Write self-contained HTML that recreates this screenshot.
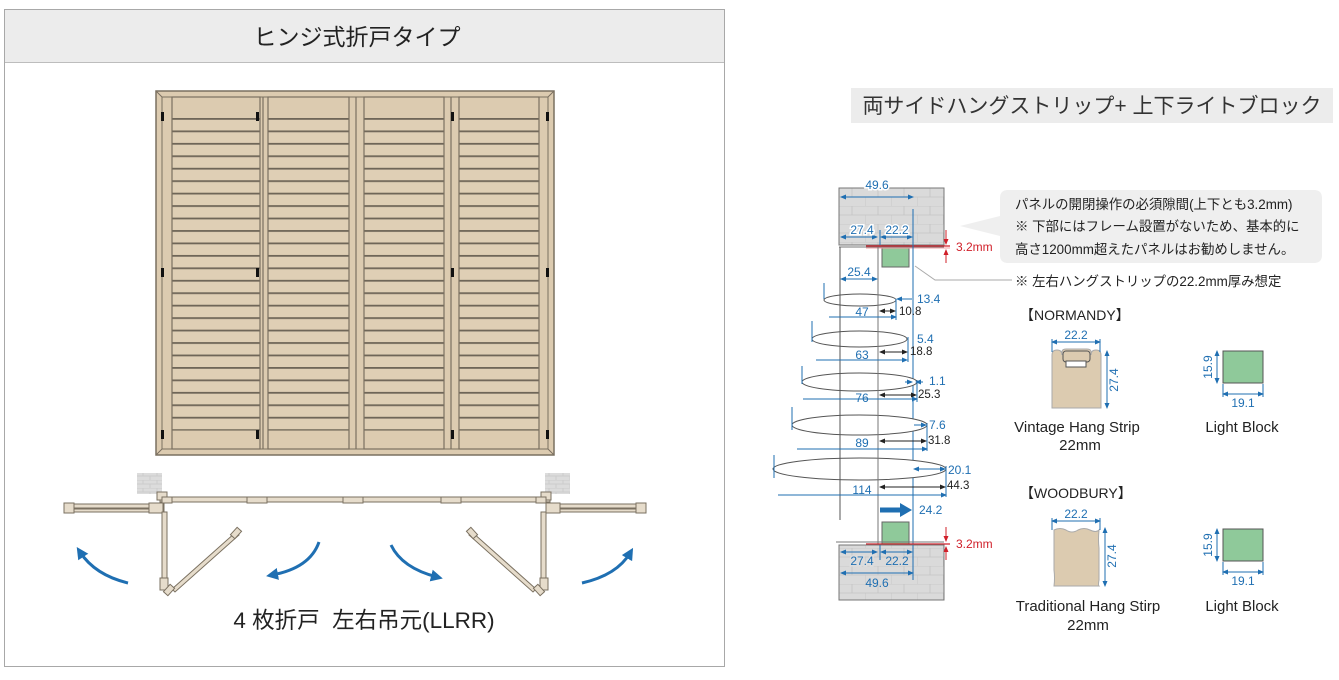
<!DOCTYPE html>
<html><head><meta charset="utf-8"><style>
body{margin:0;background:#fff;}
svg{display:block;font-family:"Liberation Sans","Noto Sans CJK JP",sans-serif;}
</style></head><body>
<svg width="1339" height="680" viewBox="0 0 1339 680" xmlns="http://www.w3.org/2000/svg">
<defs>
<pattern id="lv" patternUnits="userSpaceOnUse" x="0" y="118" width="10" height="12.45">
<rect width="10" height="12.45" fill="#dfcfb5"/><rect y="0" width="10" height="1.8" fill="#6f6658"/>
</pattern>
<pattern id="brick" patternUnits="userSpaceOnUse" width="14" height="8">
<rect width="14" height="8" fill="#dcdcdc"/><path d="M0 0H14M0 4H14M3 0V4M10 4V8" stroke="#c8c8c8" stroke-width="0.8"/>
</pattern>
<pattern id="blk" patternUnits="userSpaceOnUse" x="839" y="188" width="26" height="18">
<rect width="26" height="18" fill="#dadada"/><path d="M0 0H26M0 9H26M13 0V9M0 9V18" stroke="#c4c4c4" stroke-width="0.8"/>
</pattern>
<marker id="ab" markerWidth="6" markerHeight="6" refX="5" refY="3" orient="auto"><path d="M0,0.5L6,3L0,5.5z" fill="#1f6fb2"/></marker>
<marker id="abs" markerWidth="6" markerHeight="6" refX="1" refY="3" orient="auto"><path d="M6,0.5L0,3L6,5.5z" fill="#1f6fb2"/></marker>
<marker id="ak" markerWidth="6" markerHeight="6" refX="5" refY="3" orient="auto"><path d="M0,0.5L6,3L0,5.5z" fill="#222"/></marker>
<marker id="aks" markerWidth="6" markerHeight="6" refX="1" refY="3" orient="auto"><path d="M6,0.5L0,3L6,5.5z" fill="#222"/></marker>
<marker id="ar" markerWidth="6" markerHeight="6" refX="5" refY="3" orient="auto"><path d="M0,0.5L6,3L0,5.5z" fill="#d0202a"/></marker>
<marker id="big" markerWidth="4" markerHeight="4" refX="2" refY="2" orient="auto"><path d="M0,0L4,2L0,4z" fill="#1f6fb2"/></marker>
</defs>

<!-- LEFT PANEL -->
<rect x="4.5" y="9.5" width="720" height="657" fill="#fff" stroke="#a8a8a8"/>
<rect x="5" y="10" width="719" height="52" fill="#ececec"/>
<line x1="5" y1="62.5" x2="724" y2="62.5" stroke="#bdbdbd"/>
<text x="357" y="45" font-size="23" text-anchor="middle" fill="#222">ヒンジ式折戸タイプ</text>

<!-- shutter -->
<rect x="156" y="91" width="398" height="364" fill="#dccbb0" stroke="#7a7060" stroke-width="1.5"/>
<rect x="162" y="97" width="386" height="352" fill="#dccbb0" stroke="#7a7060" stroke-width="1"/>
<g stroke="#7a7060" stroke-width="1">
<line x1="156" y1="91" x2="162" y2="97"/><line x1="554" y1="91" x2="548" y2="97"/>
<line x1="156" y1="455" x2="162" y2="449"/><line x1="554" y1="455" x2="548" y2="449"/>
</g>
<g>
<rect x="172" y="118" width="88" height="312" fill="url(#lv)"/>
<rect x="268" y="118" width="81" height="312" fill="url(#lv)"/>
<rect x="364" y="118" width="80" height="312" fill="url(#lv)"/>
<rect x="459" y="118" width="80" height="312" fill="url(#lv)"/>
</g>
<g fill="none" stroke="#7a7060" stroke-width="1.2">
<rect x="172" y="97" width="88" height="352"/>
<rect x="268" y="97" width="81" height="352"/>
<rect x="364" y="97" width="80" height="352"/>
<rect x="459" y="97" width="80" height="352"/>
<line x1="172" y1="430" x2="260" y2="430"/><line x1="268" y1="430" x2="349" y2="430"/>
<line x1="364" y1="430" x2="444" y2="430"/><line x1="459" y1="430" x2="539" y2="430"/>
<line x1="263" y1="97" x2="263" y2="449"/><line x1="356" y1="97" x2="356" y2="449"/><line x1="451" y1="97" x2="451" y2="449"/>
</g>
<g fill="#111">
<rect x="161" y="112" width="3" height="9"/><rect x="161" y="268" width="3" height="9"/><rect x="161" y="430" width="3" height="9"/>
<rect x="256" y="112" width="3" height="9"/><rect x="256" y="268" width="3" height="9"/><rect x="256" y="430" width="3" height="9"/>
<rect x="451" y="112" width="3" height="9"/><rect x="451" y="268" width="3" height="9"/><rect x="451" y="430" width="3" height="9"/>
<rect x="546" y="112" width="3" height="9"/><rect x="546" y="268" width="3" height="9"/><rect x="546" y="430" width="3" height="9"/>
</g>

<!-- plan view -->
<rect x="137" y="473" width="25" height="21" fill="url(#brick)"/>
<rect x="545" y="473" width="25" height="21" fill="url(#brick)"/>
<g fill="#e6dccb" stroke="#7a7060" stroke-width="1">
<rect x="160" y="497" width="390" height="5"/>
<rect x="64" y="504" width="100" height="4"/><rect x="64" y="509" width="100" height="3"/>
<rect x="546" y="504" width="100" height="4"/><rect x="546" y="509" width="100" height="3"/>
<rect x="64" y="503" width="10" height="10"/><rect x="636" y="503" width="10" height="10"/>
<rect x="149" y="503" width="14" height="10"/><rect x="546" y="503" width="14" height="10"/>
<rect x="157" y="492" width="10" height="8"/><rect x="541" y="492" width="10" height="8"/>
<rect x="162" y="497" width="10" height="6"/><rect x="536" y="497" width="10" height="6"/>
<rect x="247" y="497" width="20" height="6"/><rect x="343" y="497" width="20" height="6"/><rect x="441" y="497" width="20" height="6"/>
<rect x="162" y="512" width="5" height="75"/><rect x="541" y="512" width="5" height="75"/>
<rect x="160" y="578" width="8" height="12"/><rect x="540" y="578" width="8" height="12"/>
</g>
<g stroke="#7a7060" stroke-width="1" fill="#e6dccb">
<polygon points="172,589 236,532 239,535 175,592"/>
<polygon points="536,589 472,532 469,535 533,592"/>
<rect x="233" y="528" width="6" height="10" transform="rotate(42 236 533)"/>
<rect x="166" y="585" width="6" height="10" transform="rotate(42 169 590)"/>
<rect x="469" y="528" width="6" height="10" transform="rotate(-42 472 533)"/>
<rect x="536" y="585" width="6" height="10" transform="rotate(-42 539 590)"/>
</g>
<g fill="none" stroke="#1f6fb2" stroke-width="3">
<path d="M128 583 Q95 575 80 552" marker-end="url(#big)"/>
<path d="M319 542 Q310 568 272 575" marker-end="url(#big)"/>
<path d="M391 545 Q402 568 437 577" marker-end="url(#big)"/>
<path d="M582 583 Q617 575 630 553" marker-end="url(#big)"/>
</g>
<text x="364" y="628" font-size="22.5" text-anchor="middle" fill="#222">4 枚折戸&#160;&#160;左右吊元(LLRR)</text>

<!-- RIGHT SIDE -->
<rect x="851" y="88" width="482" height="35" fill="#ececec"/>
<text x="1092" y="113" font-size="21" text-anchor="middle" fill="#333">両サイドハングストリップ+ 上下ライトブロック</text>

<!-- callout -->
<path d="M1008 190 H1314 Q1322 190 1322 198 V255 Q1322 263 1314 263 H1008 Q1000 263 1000 255 V236 L960 226 L1000 216 V198 Q1000 190 1008 190Z" fill="#efefef"/>
<g font-size="13.4" fill="#222">
<text x="1015" y="209">パネルの開閉操作の必須隙間(上下とも3.2mm)</text>
<text x="1015" y="231">※ 下部にはフレーム設置がないため、基本的に</text>
<text x="1015" y="254">高さ1200mm超えたパネルはお勧めしません。</text>
<text x="1015" y="286">※ 左右ハングストリップの22.2mm厚み想定</text>
</g>
<polyline points="915,266 935,280 1012,280" fill="none" stroke="#aaa" stroke-width="1"/>

<!-- top block -->
<rect x="839" y="188" width="105" height="57" fill="url(#blk)" stroke="#777"/>
<rect x="882" y="245" width="27" height="22" fill="#8fc99a" stroke="#666"/>
<line x1="839" y1="247" x2="944" y2="247" stroke="#777"/>
<line x1="866" y1="246" x2="950" y2="246" stroke="#d0202a" stroke-width="1.2"/>
<line x1="866" y1="248" x2="950" y2="248" stroke="#f3a0a5" stroke-width="1"/>
<line x1="946" y1="230" x2="946" y2="244" stroke="#d0202a" marker-end="url(#ar)"/>
<line x1="946" y1="263" x2="946" y2="250" stroke="#d0202a" marker-end="url(#ar)"/>
<text x="956" y="251" font-size="12" fill="#d0202a">3.2mm</text>

<!-- verticals -->
<line x1="840" y1="247" x2="840" y2="520" stroke="#555"/>
<line x1="878" y1="247" x2="878" y2="600" stroke="#777"/>
<line x1="913" y1="209" x2="913" y2="550" stroke="#1f6fb2"/>

<!-- louvers -->
<g fill="#fff" stroke="#555" stroke-width="1">
<ellipse cx="860" cy="300" rx="36" ry="6"/>
<ellipse cx="859.5" cy="339" rx="47.5" ry="8"/>
<ellipse cx="859.5" cy="382" rx="57.5" ry="9"/>
<ellipse cx="859.5" cy="425" rx="67.5" ry="10"/>
<ellipse cx="859.5" cy="469" rx="86.5" ry="11"/>
</g>
<line x1="840" y1="286" x2="840" y2="480" stroke="#555"/>
<line x1="878" y1="286" x2="878" y2="480" stroke="#777"/>

<g stroke="#1f6fb2" stroke-width="1" fill="none">
<line x1="841" y1="197" x2="913" y2="197" marker-start="url(#abs)" marker-end="url(#ab)"/>
<line x1="841" y1="237" x2="877" y2="237" marker-start="url(#abs)" marker-end="url(#ab)"/>
<line x1="881" y1="237" x2="912" y2="237" marker-start="url(#abs)" marker-end="url(#ab)"/>
<line x1="880" y1="230" x2="880" y2="245"/>
<line x1="841" y1="279" x2="877" y2="279" marker-start="url(#abs)" marker-end="url(#ab)"/>
<line x1="824" y1="283" x2="824" y2="299"/><line x1="829" y1="317" x2="896" y2="317" marker-end="url(#ab)"/>
<line x1="896" y1="299" x2="896" y2="320"/>
<line x1="897" y1="299" x2="912" y2="299" marker-start="url(#abs)"/>
<line x1="812" y1="321" x2="812" y2="342"/><line x1="816" y1="360" x2="907" y2="360" marker-end="url(#ab)"/>
<line x1="908" y1="337" x2="908" y2="362"/>
<line x1="802" y1="366" x2="802" y2="384"/><line x1="803" y1="399" x2="917" y2="399" marker-end="url(#ab)"/>
<line x1="905" y1="382" x2="912" y2="382" marker-end="url(#ab)"/><line x1="923" y1="382" x2="916" y2="382" marker-end="url(#ab)"/>
<line x1="917" y1="380" x2="917" y2="402"/>
<line x1="792" y1="407" x2="792" y2="430"/><line x1="797" y1="449" x2="927" y2="449" marker-end="url(#ab)"/>
<line x1="914" y1="425" x2="926" y2="425" marker-end="url(#ab)"/><line x1="927" y1="423" x2="927" y2="451"/>
<line x1="774" y1="455" x2="774" y2="478"/><line x1="778" y1="495" x2="946" y2="495" marker-end="url(#ab)"/>
<line x1="914" y1="469" x2="945" y2="469" marker-start="url(#abs)" marker-end="url(#ab)"/><line x1="946" y1="466" x2="946" y2="497"/>
</g>
<g stroke="#222" stroke-width="1">
<line x1="880" y1="311" x2="895" y2="311" marker-start="url(#aks)" marker-end="url(#ak)"/>
<line x1="880" y1="352" x2="907" y2="352" marker-start="url(#aks)" marker-end="url(#ak)"/>
<line x1="880" y1="395" x2="916" y2="395" marker-start="url(#aks)" marker-end="url(#ak)"/>
<line x1="880" y1="441" x2="926" y2="441" marker-start="url(#aks)" marker-end="url(#ak)"/>
<line x1="880" y1="487" x2="945" y2="487" marker-start="url(#aks)" marker-end="url(#ak)"/>
</g>
<g font-size="12" fill="#1f6fb2" text-anchor="middle">
<text x="877" y="189" stroke="#fff" stroke-width="3" paint-order="stroke">49.6</text>
<text x="862" y="234" stroke="#fff" stroke-width="3" paint-order="stroke">27.4</text>
<text x="897" y="234" stroke="#fff" stroke-width="3" paint-order="stroke">22.2</text>
<text x="859" y="276">25.4</text>
<text x="862" y="316">47</text>
<text x="862" y="359">63</text>
<text x="862" y="402">76</text>
<text x="862" y="447">89</text>
<text x="862" y="494">114</text>
</g>
<g font-size="12" fill="#1f6fb2">
<text x="917" y="303">13.4</text><text x="917" y="343">5.4</text><text x="929" y="385">1.1</text>
<text x="929" y="429">7.6</text><text x="948" y="474">20.1</text><text x="919" y="514">24.2</text>
</g>
<g font-size="11.5" fill="#222">
<text x="899" y="315">10.8</text><text x="910" y="355">18.8</text><text x="918" y="398">25.3</text>
<text x="928" y="444">31.8</text><text x="947" y="489">44.3</text>
</g>
<line x1="880" y1="510" x2="902" y2="510" stroke="#1f6fb2" stroke-width="5"/>
<polygon points="900,503 912,510 900,517" fill="#1f6fb2"/>

<!-- bottom block -->
<rect x="882" y="522" width="27" height="23" fill="#8fc99a" stroke="#666"/>
<line x1="836" y1="542" x2="944" y2="542" stroke="#777"/>
<line x1="866" y1="544" x2="950" y2="544" stroke="#d0202a" stroke-width="1.2"/>
<rect x="839" y="545" width="105" height="55" fill="url(#blk)" stroke="#777"/>
<line x1="946" y1="527" x2="946" y2="541" stroke="#d0202a" marker-end="url(#ar)"/>
<line x1="946" y1="560" x2="946" y2="547" stroke="#d0202a" marker-end="url(#ar)"/>
<text x="956" y="548" font-size="12" fill="#d0202a">3.2mm</text>
<line x1="880" y1="545" x2="880" y2="560" stroke="#1f6fb2"/>
<line x1="841" y1="552" x2="877" y2="552" stroke="#1f6fb2" marker-start="url(#abs)" marker-end="url(#ab)"/>
<line x1="881" y1="552" x2="912" y2="552" stroke="#1f6fb2" marker-start="url(#abs)" marker-end="url(#ab)"/>
<line x1="841" y1="573" x2="913" y2="573" stroke="#1f6fb2" marker-start="url(#abs)" marker-end="url(#ab)"/>
<line x1="913" y1="545" x2="913" y2="580" stroke="#1f6fb2"/>
<g font-size="12" fill="#1f6fb2" text-anchor="middle">
<text x="862" y="565" stroke="#ddd" stroke-width="3" paint-order="stroke" fill="#1f6fb2">27.4</text>
<text x="897" y="565">22.2</text>
<text x="877" y="587">49.6</text>
</g>

<!-- NORMANDY -->
<text x="1020" y="320" font-size="14" fill="#222">【NORMANDY】</text>
<path d="M1052 355 Q1052 350 1057 350 Q1062 350 1062 355 L1062 352 Q1062 349 1066 349 L1087 349 Q1091 349 1091 352 L1091 355 Q1091 350 1096 350 Q1101 350 1101 355 L1101 408 L1052 408Z" fill="#dccbb0" stroke="#aaa"/>
<rect x="1063" y="351" width="27" height="11" rx="3" fill="#dccbb0" stroke="#555"/>
<rect x="1066" y="361" width="20" height="6" fill="#fff" stroke="#555"/>
<line x1="1052" y1="342" x2="1100" y2="342" stroke="#1f6fb2" marker-start="url(#abs)" marker-end="url(#ab)"/>
<line x1="1052" y1="339" x2="1052" y2="352" stroke="#1f6fb2"/><line x1="1100" y1="339" x2="1100" y2="352" stroke="#1f6fb2"/>
<line x1="1107" y1="351" x2="1107" y2="408" stroke="#1f6fb2" marker-start="url(#abs)" marker-end="url(#ab)"/>
<text x="1076" y="339" font-size="12" fill="#1f6fb2" text-anchor="middle">22.2</text>
<text x="1118" y="380" font-size="12" fill="#1f6fb2" text-anchor="middle" transform="rotate(-90 1118 380)">27.4</text>
<text x="1077" y="432" font-size="15" fill="#222" text-anchor="middle">Vintage Hang Strip</text>
<text x="1080" y="450" font-size="15" fill="#222" text-anchor="middle">22mm</text>

<rect x="1223" y="351" width="40" height="32" fill="#8fc99a" stroke="#555"/>
<line x1="1217" y1="351" x2="1217" y2="383" stroke="#1f6fb2" marker-start="url(#abs)" marker-end="url(#ab)"/>
<line x1="1223" y1="394" x2="1263" y2="394" stroke="#1f6fb2" marker-start="url(#abs)" marker-end="url(#ab)"/>
<line x1="1223" y1="384" x2="1223" y2="397" stroke="#1f6fb2"/><line x1="1263" y1="384" x2="1263" y2="397" stroke="#1f6fb2"/>
<text x="1212" y="367" font-size="12" fill="#1f6fb2" text-anchor="middle" transform="rotate(-90 1212 367)">15.9</text>
<text x="1243" y="407" font-size="12" fill="#1f6fb2" text-anchor="middle">19.1</text>
<text x="1242" y="432" font-size="15" fill="#222" text-anchor="middle">Light Block</text>

<!-- WOODBURY -->
<text x="1020" y="498" font-size="14" fill="#222">【WOODBURY】</text>
<path d="M1054 530 Q1060 527 1066 530 Q1072 534 1078 530 Q1084 527 1090 530 Q1096 533 1099 530 Q1098 540 1099 548 L1099 580 Q1098 585 1099 586 L1054 586 Q1055 578 1054 570 Z" fill="#dccbb0" stroke="#aaa"/>
<line x1="1052" y1="521" x2="1100" y2="521" stroke="#1f6fb2" marker-start="url(#abs)" marker-end="url(#ab)"/>
<line x1="1052" y1="518" x2="1052" y2="530" stroke="#1f6fb2"/><line x1="1100" y1="518" x2="1100" y2="530" stroke="#1f6fb2"/>
<line x1="1105" y1="528" x2="1105" y2="586" stroke="#1f6fb2" marker-start="url(#abs)" marker-end="url(#ab)"/>
<text x="1076" y="518" font-size="12" fill="#1f6fb2" text-anchor="middle">22.2</text>
<text x="1116" y="556" font-size="12" fill="#1f6fb2" text-anchor="middle" transform="rotate(-90 1116 556)">27.4</text>
<text x="1088" y="611" font-size="15" fill="#222" text-anchor="middle">Traditional Hang Stirp</text>
<text x="1088" y="630" font-size="15" fill="#222" text-anchor="middle">22mm</text>

<rect x="1223" y="529" width="40" height="32" fill="#8fc99a" stroke="#555"/>
<line x1="1217" y1="529" x2="1217" y2="561" stroke="#1f6fb2" marker-start="url(#abs)" marker-end="url(#ab)"/>
<line x1="1223" y1="572" x2="1263" y2="572" stroke="#1f6fb2" marker-start="url(#abs)" marker-end="url(#ab)"/>
<line x1="1223" y1="562" x2="1223" y2="575" stroke="#1f6fb2"/><line x1="1263" y1="562" x2="1263" y2="575" stroke="#1f6fb2"/>
<text x="1212" y="545" font-size="12" fill="#1f6fb2" text-anchor="middle" transform="rotate(-90 1212 545)">15.9</text>
<text x="1243" y="585" font-size="12" fill="#1f6fb2" text-anchor="middle">19.1</text>
<text x="1242" y="611" font-size="15" fill="#222" text-anchor="middle">Light Block</text>
</svg>
</body></html>
